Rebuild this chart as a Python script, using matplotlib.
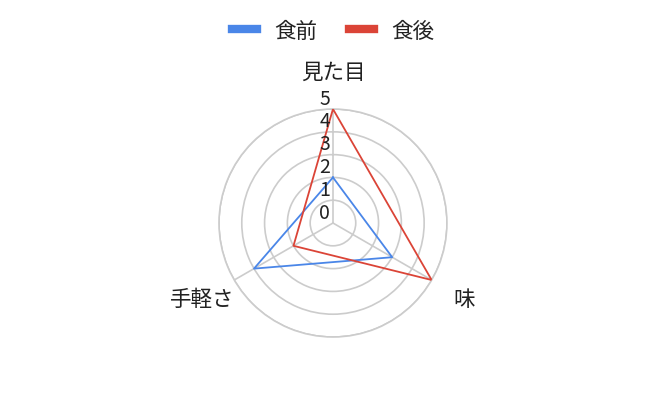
import numpy as np
import matplotlib.pyplot as plt
from matplotlib.lines import Line2D
from matplotlib.transforms import offset_copy

plt.rcParams['font.family'] = ['Noto Sans CJK JP', 'DejaVu Sans']

categories = ['見た目', '味', '手軽さ']
before = [2, 3, 4]
after = [5, 5, 2]
series_names = ['食前', '食後']
colors = ['#4a86e8', '#db4437']
grid_color = '#cccccc'
r_ticks = [0, 1, 2, 3, 4, 5]

fig = plt.figure(figsize=(6.66, 4.10), dpi=100)
ax = fig.add_axes([0.3288, 0.1756, 0.3423, 0.556], projection='polar')
ax.set_theta_offset(np.pi / 2)
ax.set_theta_direction(-1)

angles = np.linspace(0, 2 * np.pi, len(categories), endpoint=False)

for vals, color in zip([before, after], colors):
    a = np.append(angles, angles[0])
    v = np.append(vals, vals[0])
    ax.plot(a, v, color=color, linewidth=1.3, zorder=3)

ax.set_ylim(0, 5)
ax.set_yticks(r_ticks[1:])
ax.set_yticklabels([])
ax.set_xticks(angles)
ax.set_xticklabels([])
ax.grid(True, color=grid_color, linewidth=1.2)
ax.spines['polar'].set_color(grid_color)
ax.spines['polar'].set_linewidth(1.2)
ax.tick_params(length=0)
ax.set_facecolor('white')

# radial value labels
tr = offset_copy(ax.transData, fig=fig, x=-3, y=11, units='dots')
for r in r_ticks:
    ax.text(0, r, str(r), transform=tr, ha='right', va='center',
            fontsize=14, color='#222222', zorder=4, clip_on=False)

# category labels
for ang, cat in zip(angles, categories):
    ax.text(ang, 6.63, cat, ha='center', va='center', fontsize=15.5,
            color='#222222', clip_on=False)

handles = [Line2D([0], [0], color=c, linewidth=6) for c in colors]
fig.legend(handles, series_names, loc='center', bbox_to_anchor=(0.5, 0.922),
           ncol=2, frameon=False, fontsize=15.5, handlelength=1.15,
           columnspacing=1.5, handletextpad=0.8, labelcolor='#222222')

fig.savefig('out.png', dpi=100, facecolor='white')
